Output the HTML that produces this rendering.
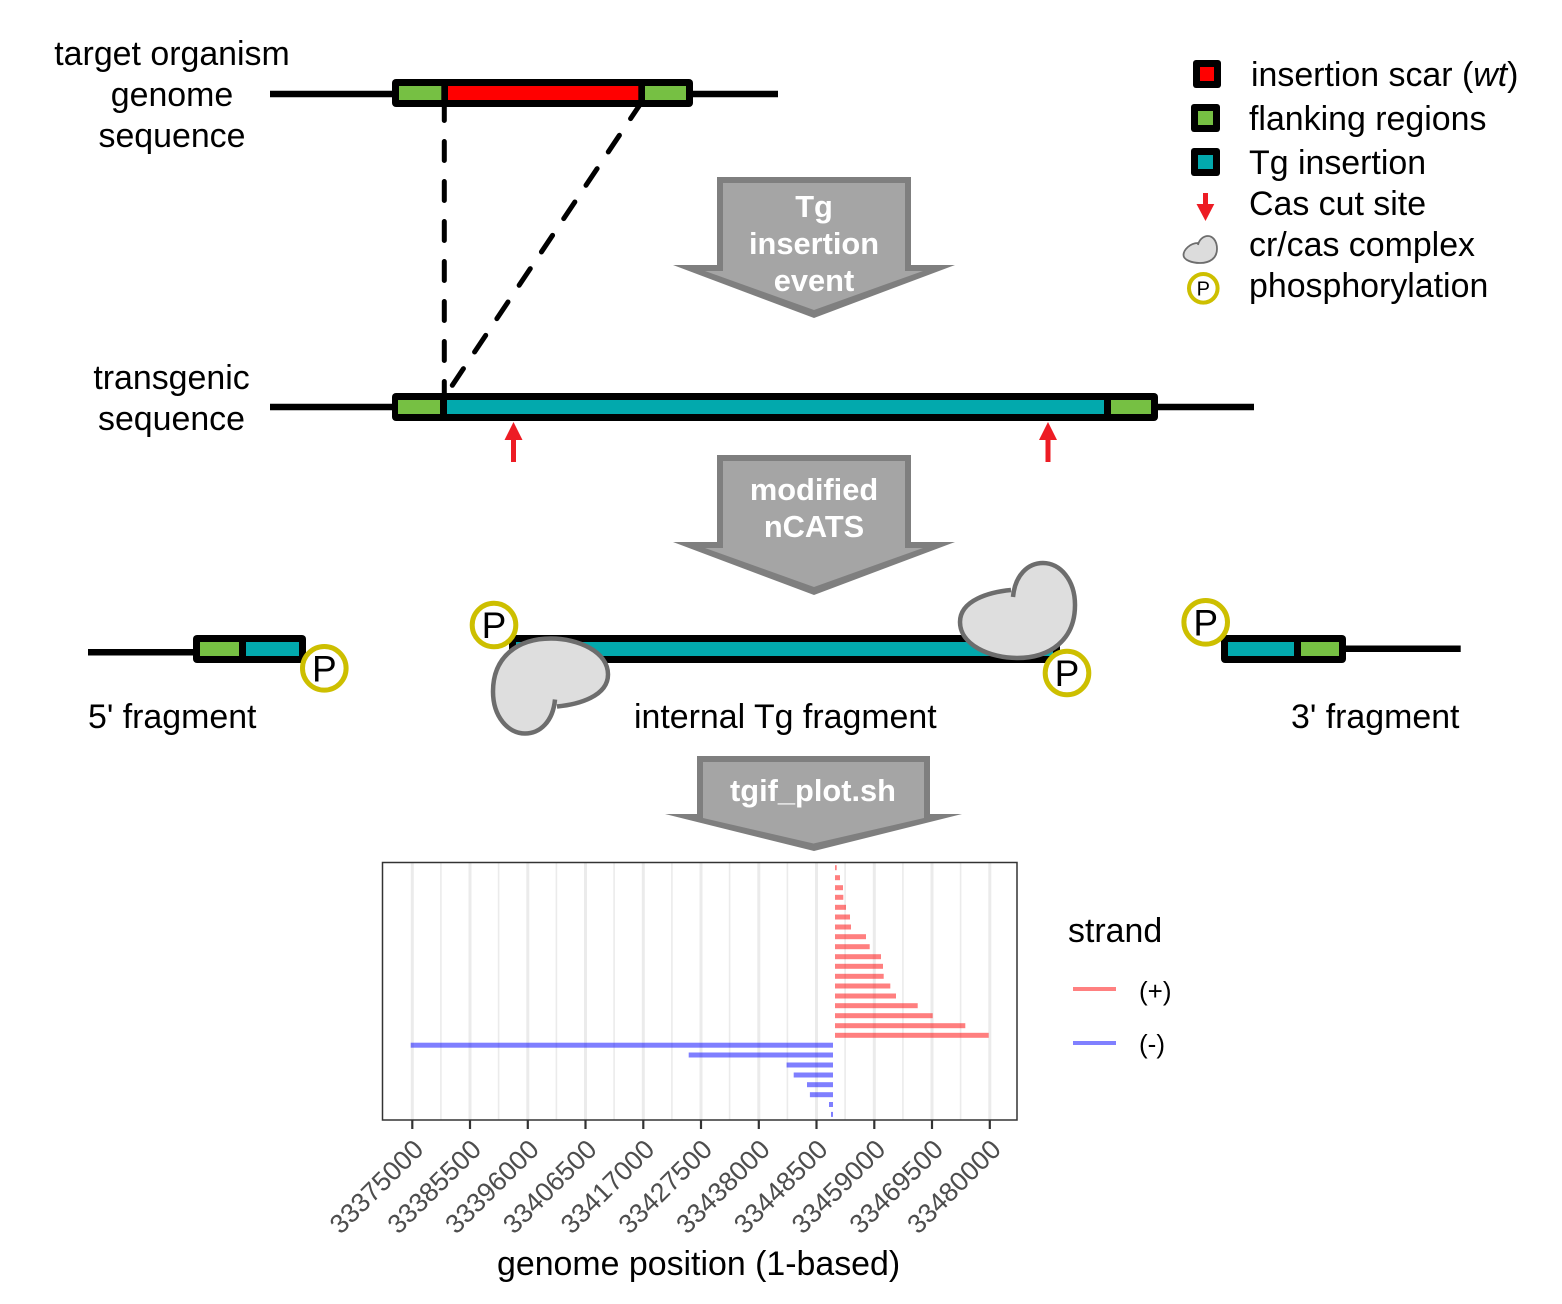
<!DOCTYPE html>
<html><head><meta charset="utf-8"><style>
html,body{margin:0;padding:0;background:#fff}
svg{display:block}
text{font-family:"Liberation Sans",sans-serif}
.m{font-size:33.9px;fill:#000}
.c{text-anchor:middle}
.w{font-size:30.8px;font-weight:bold;fill:#fff;text-anchor:middle}
.p{font-size:37px;fill:#000;text-anchor:middle}
.t{font-size:26.8px;fill:#4d4d4d;text-anchor:end}
</style></head><body>
<svg width="1562" height="1304" viewBox="0 0 1562 1304" xmlns="http://www.w3.org/2000/svg">
<rect width="1562" height="1304" fill="#fff"/>

<!-- top sequence -->
<line x1="270" y1="94" x2="778" y2="94" stroke="#000" stroke-width="6.5"/>
<line x1="444.3" y1="101.5" x2="444.3" y2="395" stroke="#000" stroke-width="5" stroke-linecap="round" stroke-dasharray="19 21"/>
<line x1="452.3" y1="385.3" x2="643" y2="100" stroke="#000" stroke-width="5" stroke-linecap="round" stroke-dasharray="20 20.1"/>
<rect x="392" y="79" width="301" height="28" rx="4" fill="#000"/>
<rect x="399" y="86" width="42.3" height="14" fill="#76c043"/>
<rect x="448" y="86" width="190.3" height="14" fill="#ff0000"/>
<rect x="645" y="86" width="41" height="14" fill="#76c043"/>

<text class="m c" x="172" y="65">target organism</text>
<text class="m c" x="172" y="106">genome</text>
<text class="m c" x="172" y="147">sequence</text>

<!-- transgenic -->
<line x1="270" y1="407" x2="1254" y2="407" stroke="#000" stroke-width="6.5"/>
<rect x="392" y="393" width="766" height="28" rx="4" fill="#000"/>
<rect x="398" y="400" width="42" height="14" fill="#76c043"/>
<rect x="447" y="400" width="657" height="14" fill="#02a9ad"/>
<rect x="1111" y="400" width="40" height="14" fill="#76c043"/>
<text class="m c" x="171.500" y="389">transgenic</text>
<text class="m c" x="171.500" y="430">sequence</text>

<!-- cut arrows -->
<polygon points="513.500,422 522.500,440 516,440 516,462 511,462 511,440 504.500,440" fill="#ed1c24"/>
<polygon points="1048,422 1057,440 1050.500,440 1050.500,462 1045.500,462 1045.500,440 1039,440" fill="#ed1c24"/>

<!-- block arrow 1 -->
<polygon points="717,177 911,177 911,265 955,265 814,318 673,265 717,265" fill="#7f7f7f"/>
<polygon points="723,183 905,183 905,271 923,271 814,310 705,271 723,271" fill="#a5a5a5"/>
<text class="w" x="814" y="217">Tg</text>
<text class="w" x="814" y="254">insertion</text>
<text class="w" x="814" y="291">event</text>

<!-- block arrow 2 -->
<polygon points="717,455 911,455 911,542 955,542 814,595 673,542 717,542" fill="#7f7f7f"/>
<polygon points="723,461 905,461 905,548 923,548 814,587 705,548 723,548" fill="#a5a5a5"/>
<text class="w" x="814" y="500">modified</text>
<text class="w" x="814" y="537">nCATS</text>

<!-- block arrow 3 -->
<polygon points="697,756 930,756 930,814 962,814 814,851 665,814 697,814" fill="#7f7f7f"/>
<polygon points="703,762 924,762 924,818 813.500,843.500 703,818" fill="#a5a5a5"/>
<text class="w" x="813" y="801">tgif_plot.sh</text>

<!-- 5' fragment -->
<line x1="88" y1="652.300" x2="200" y2="652.300" stroke="#000" stroke-width="6.500"/>
<rect x="193" y="635" width="113" height="28" rx="4" fill="#000"/>
<rect x="200" y="642" width="39" height="14" fill="#76c043"/>
<rect x="246" y="642" width="53" height="14" fill="#02a9ad"/>
<circle cx="324.300" cy="668.300" r="21.800" fill="#fff" stroke="#cdbf00" stroke-width="5"/>
<text class="p" x="324.300" y="681.500">P</text>
<text class="m" x="88" y="728">5' fragment</text>

<!-- internal -->
<rect x="509" y="635" width="551" height="28" rx="4" fill="#000"/>
<rect x="516" y="642" width="537" height="14" fill="#02a9ad"/>
<circle cx="494" cy="625" r="21.800" fill="#fff" stroke="#cdbf00" stroke-width="5"/>
<text class="p" x="494" y="638">P</text>
<circle cx="1067" cy="673" r="21.800" fill="#fff" stroke="#cdbf00" stroke-width="5"/>
<text class="p" x="1067" y="686">P</text>
<path d="M1011,590 C990,592 960,600 960,622 C960,645 990,658 1017,658 C1050,658 1075,640 1075,605 C1075,580 1060,563 1043,563 C1028,563 1015,575 1013,597" fill="#dedede" stroke="#6d6d6d" stroke-width="4.500" stroke-linejoin="round"/>
<path transform="translate(1568 1296.500) rotate(180)" d="M1011,590 C990,592 960,600 960,622 C960,645 990,658 1017,658 C1050,658 1075,640 1075,605 C1075,580 1060,563 1043,563 C1028,563 1015,575 1013,597" fill="#dedede" stroke="#6d6d6d" stroke-width="4.500" stroke-linejoin="round"/>
<text class="m" x="634" y="728">internal Tg fragment</text>

<!-- 3' fragment -->
<line x1="1340" y1="648.700" x2="1460.700" y2="648.700" stroke="#000" stroke-width="6.500"/>
<rect x="1221" y="635" width="125" height="28" rx="4" fill="#000"/>
<rect x="1228" y="642" width="66" height="14" fill="#02a9ad"/>
<rect x="1301" y="642" width="38" height="14" fill="#76c043"/>
<circle cx="1205.700" cy="622.300" r="21.800" fill="#fff" stroke="#cdbf00" stroke-width="5"/>
<text class="p" x="1205.700" y="635.500">P</text>
<text class="m" x="1291" y="728">3' fragment</text>

<!-- legend -->
<rect x="1193" y="60" width="28" height="28" rx="3" fill="#000"/><rect x="1200" y="67" width="14" height="14" fill="#ff0000"/>
<rect x="1191" y="104" width="29" height="28" rx="3" fill="#000"/><rect x="1198" y="111" width="15" height="14" fill="#76c043"/>
<rect x="1191" y="148" width="29" height="28" rx="3" fill="#000"/><rect x="1198" y="155" width="15" height="14" fill="#02a9ad"/>
<polygon points="1203,193 1208,193 1208,204 1214.300,204 1205.500,221 1196.500,204 1203,204" fill="#ed1c24"/>
<path d="M1198,243 C1190,243 1183.500,250 1183.500,255 C1183.500,260 1192,263 1200,263 C1210,263 1217,258 1217,249 C1217,240 1212,236 1208,236 C1203,236 1199,240 1198,245" fill="#dcdcdc" stroke="#6d6d6d" stroke-width="1.800"/>
<circle cx="1203.300" cy="288.300" r="14.300" fill="#fff" stroke="#cdbf00" stroke-width="4"/>
<text x="1203.300" y="295.500" font-size="20" text-anchor="middle" fill="#000">P</text>
<text class="m" x="1251" y="86">insertion scar (<tspan font-style="italic">wt</tspan>)</text>
<text class="m" x="1249" y="130">flanking regions</text>
<text class="m" x="1249" y="174">Tg insertion</text>
<text class="m" x="1249" y="215">Cas cut site</text>
<text class="m" x="1249" y="256">cr/cas complex</text>
<text class="m" x="1249" y="297">phosphorylation</text>

<!-- plot gridlines -->
<g stroke="#ebebeb" stroke-width="1.600">
<line x1="440.900" y1="862" x2="440.900" y2="1120"/><line x1="498.600" y1="862" x2="498.600" y2="1120"/><line x1="556.400" y1="862" x2="556.400" y2="1120"/><line x1="614.100" y1="862" x2="614.100" y2="1120"/><line x1="671.900" y1="862" x2="671.900" y2="1120"/><line x1="729.600" y1="862" x2="729.600" y2="1120"/><line x1="787.400" y1="862" x2="787.400" y2="1120"/><line x1="845.100" y1="862" x2="845.100" y2="1120"/><line x1="902.900" y1="862" x2="902.900" y2="1120"/><line x1="960.600" y1="862" x2="960.600" y2="1120"/>
</g>
<g stroke="#ebebeb" stroke-width="3">
<line x1="412.300" y1="862" x2="412.300" y2="1120"/><line x1="470" y1="862" x2="470" y2="1120"/><line x1="527.800" y1="862" x2="527.800" y2="1120"/><line x1="585.500" y1="862" x2="585.500" y2="1120"/><line x1="643.300" y1="862" x2="643.300" y2="1120"/><line x1="701" y1="862" x2="701" y2="1120"/><line x1="758.800" y1="862" x2="758.800" y2="1120"/><line x1="816.500" y1="862" x2="816.500" y2="1120"/><line x1="874.300" y1="862" x2="874.300" y2="1120"/><line x1="932" y1="862" x2="932" y2="1120"/><line x1="989.800" y1="862" x2="989.800" y2="1120"/>
</g>
<!-- plus strand -->
<g fill="#ff0000" fill-opacity=".5">
<rect x="835" y="865.200" width="1.700" height="5"/>
<rect x="835" y="875.200" width="5" height="5"/>
<rect x="835" y="885.200" width="8" height="5"/>
<rect x="835" y="894.800" width="8.300" height="5"/>
<rect x="835" y="904.800" width="11" height="5"/>
<rect x="835" y="914.500" width="15" height="5"/>
<rect x="835" y="924.500" width="16" height="5"/>
<rect x="835" y="934.200" width="31" height="5"/>
<rect x="835" y="944.200" width="34.700" height="5"/>
<rect x="835" y="954.200" width="46" height="5"/>
<rect x="835" y="963.800" width="48" height="5"/>
<rect x="835" y="973.800" width="48.700" height="5"/>
<rect x="835" y="983.500" width="55.300" height="5"/>
<rect x="835" y="993.500" width="61" height="5"/>
<rect x="835" y="1003.200" width="82.700" height="5"/>
<rect x="835" y="1013.200" width="97.700" height="5"/>
<rect x="835" y="1023.200" width="130.300" height="5"/>
<rect x="835" y="1032.800" width="153.700" height="5"/>
</g>
<!-- minus strand -->
<g fill="#0000ff" fill-opacity=".5">
<rect x="410.700" y="1042.700" width="422.300" height="5"/>
<rect x="688.700" y="1052.500" width="144.300" height="5"/>
<rect x="786.600" y="1062.500" width="46.400" height="5"/>
<rect x="793.700" y="1072.500" width="39.300" height="5"/>
<rect x="807" y="1082.200" width="26" height="5"/>
<rect x="809.900" y="1092.200" width="23.100" height="5"/>
<rect x="829" y="1102" width="4" height="5"/>
<rect x="831" y="1111.900" width="2" height="5"/>
</g>
<rect x="382.500" y="862.500" width="634.500" height="257.500" fill="none" stroke="#333" stroke-width="1.500"/>
<g stroke="#333" stroke-width="2.200">
<line x1="412.300" y1="1120" x2="412.300" y2="1129"/><line x1="470" y1="1120" x2="470" y2="1129"/><line x1="527.800" y1="1120" x2="527.800" y2="1129"/><line x1="585.500" y1="1120" x2="585.500" y2="1129"/><line x1="643.300" y1="1120" x2="643.300" y2="1129"/><line x1="701" y1="1120" x2="701" y2="1129"/><line x1="758.800" y1="1120" x2="758.800" y2="1129"/><line x1="816.500" y1="1120" x2="816.500" y2="1129"/><line x1="874.300" y1="1120" x2="874.300" y2="1129"/><line x1="932" y1="1120" x2="932" y2="1129"/><line x1="989.800" y1="1120" x2="989.800" y2="1129"/>
</g>
<text class="t" transform="translate(425 1151) rotate(-45)">33375000</text>
<text class="t" transform="translate(482.800 1151) rotate(-45)">33385500</text>
<text class="t" transform="translate(540.500 1151) rotate(-45)">33396000</text>
<text class="t" transform="translate(598.300 1151) rotate(-45)">33406500</text>
<text class="t" transform="translate(656 1151) rotate(-45)">33417000</text>
<text class="t" transform="translate(713.800 1151) rotate(-45)">33427500</text>
<text class="t" transform="translate(771.500 1151) rotate(-45)">33438000</text>
<text class="t" transform="translate(829.300 1151) rotate(-45)">33448500</text>
<text class="t" transform="translate(887 1151) rotate(-45)">33459000</text>
<text class="t" transform="translate(944.800 1151) rotate(-45)">33469500</text>
<text class="t" transform="translate(1002.500 1151) rotate(-45)">33480000</text>
<text class="m" x="497" y="1275">genome position (1-based)</text>

<!-- plot legend -->
<text class="m" x="1068" y="942">strand</text>
<line x1="1073" y1="989" x2="1116" y2="989" stroke="#ff8080" stroke-width="4"/>
<line x1="1073" y1="1043" x2="1116" y2="1043" stroke="#8080ff" stroke-width="4"/>
<text x="1139" y="1000" font-size="26" fill="#000">(+)</text>
<text x="1139" y="1053" font-size="26" fill="#000">(-)</text>
</svg>
</body></html>
